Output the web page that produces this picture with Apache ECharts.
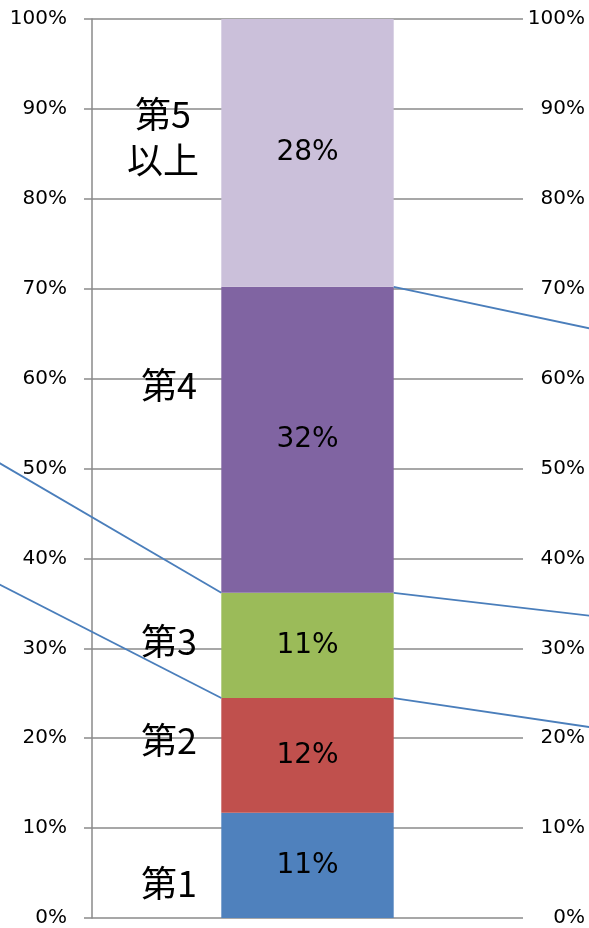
<!DOCTYPE html>
<html>
<head>
<meta charset="utf-8">
<script src="https://cdn.jsdelivr.net/npm/echarts@6/dist/echarts.min.js"></script>
<style>
  html, body { margin: 0; padding: 0; background: #fff; }
  #chart { width: 589px; height: 928px; }
</style>
</head>
<body>
<div id="chart"></div>
<script>
// Stacked share of one column, with series lines to the neighbouring columns
const categories = ['第1', '第2', '第3', '第4', '第5\n以上'];
const seriesNames = ['第1', '第2', '第3', '第4', '第5以上'];
const shares = [11, 12, 11, 32, 28];
const colors = ['#4F81BD', '#C0504D', '#9BBB59', '#8064A2', '#CBC0DA'];
const yTicks = [0, 10, 20, 30, 40, 50, 60, 70, 80, 90, 100];

// cumulative boundaries (%) of the neighbouring columns, for the series lines
const prevTops = { 1: 39.2, 2: 53.0 };           // top of 第2, 第3 in the column to the left
const nextTops = { 1: 20.2, 2: 32.8, 3: 64.1 };  // top of 第2, 第3, 第4 in the column to the right

const total = shares.reduce((a, b) => a + b, 0);
const pct = shares.map(v => v / total * 100);
const cum = [];
pct.reduce((acc, v, i) => (cum[i] = acc + v), 0);

const GRID_COLOR = '#8a8a8a';
const NUM_FONT = 'DejaVu Sans';
const CJK_FONT = 'Noto Sans CJK JP';
const HALF_BAR = 0.2; // bar occupies 40% of its category band

// plot area: one category band, 431px wide
const PLOT = { left: 92, right: 66, top: 19, bottom: 10 };
const BAND = 589 - PLOT.left - PLOT.right;

const barSeries = seriesNames.map((name, i) => ({
  name,
  type: 'bar',
  stack: 'share',
  xAxisIndex: 0,
  yAxisIndex: 0,
  barWidth: '40%',
  itemStyle: { color: colors[i] },
  label: {
    show: true,
    position: 'inside',
    color: '#000',
    fontFamily: NUM_FONT,
    fontSize: 28,
    formatter: () => shares[i] + '%'
  },
  data: [pct[i]]
}));

const lineStyle = { color: '#4A7EBB', width: 1.8 };
const seriesLines = [];
Object.keys(prevTops).forEach(k => {
  seriesLines.push([[-1 + HALF_BAR, prevTops[k]], [-HALF_BAR, cum[k]]]);
});
Object.keys(nextTops).forEach(k => {
  seriesLines.push([[HALF_BAR, cum[k]], [1 - HALF_BAR, nextTops[k]]]);
});
const lineSeries = seriesLines.map(pts => ({
  type: 'line',
  xAxisIndex: 1,
  yAxisIndex: 2,
  clip: false,
  silent: true,
  symbol: 'none',
  z: 3,
  lineStyle,
  data: pts
}));

const yAxisBase = {
  type: 'value',
  min: yTicks[0],
  max: yTicks[yTicks.length - 1],
  interval: yTicks[1] - yTicks[0]
};

const chart = echarts.init(document.getElementById('chart'), null, { renderer: 'canvas' });
chart.setOption({
  animation: false,
  backgroundColor: '#fff',
  grid: [
    Object.assign({ containLabel: false, outerBoundsMode: 'none' }, PLOT),
    // wider band spanning the neighbouring columns (one band each side)
    {
      left: PLOT.left - BAND,
      right: PLOT.right - BAND,
      top: PLOT.top,
      bottom: PLOT.bottom,
      containLabel: false,
      outerBoundsMode: 'none'
    }
  ],
  xAxis: [
    {
      type: 'category',
      gridIndex: 0,
      data: [''],
      axisLine: { show: false },
      axisTick: { show: false },
      axisLabel: { show: false }
    },
    {
      type: 'value',
      gridIndex: 1,
      min: -1.5,
      max: 1.5,
      show: false
    }
  ],
  yAxis: [
    Object.assign({}, yAxisBase, {
      gridIndex: 0,
      position: 'left',
      axisLine: { show: true, onZero: false, lineStyle: { color: GRID_COLOR, width: 1.5 } },
      axisTick: { show: true, length: 8, lineStyle: { color: GRID_COLOR, width: 1.5 } },
      splitLine: { show: true, lineStyle: { color: GRID_COLOR, width: 1.5 } },
      axisLabel: {
        margin: 25,
        padding: [3, 0, 0, 0],
        color: '#000',
        fontFamily: NUM_FONT,
        fontSize: 20,
        formatter: v => v + '%'
      }
    }),
    Object.assign({}, yAxisBase, {
      gridIndex: 0,
      position: 'right',
      axisLine: { show: false, onZero: false },
      axisTick: { show: false },
      splitLine: { show: false },
      axisLabel: {
        margin: 62,
        align: 'right',
        padding: [0, 0, 6, 0],
        color: '#000',
        fontFamily: NUM_FONT,
        fontSize: 20,
        formatter: v => v + '%'
      }
    }),
    Object.assign({}, yAxisBase, { gridIndex: 1, show: false })
  ],
  graphic: [
    { x: 141, y: 883, text: categories[0] },
    { x: 141, y: 740, text: categories[1] },
    { x: 141, y: 641, text: categories[2] },
    { x: 141, y: 385, text: categories[3] },
    { x: 163, y: 137, text: categories[4], align: 'center' }
  ].map(t => ({
    type: 'text',
    z: 10,
    style: {
      x: t.x,
      y: t.y,
      text: t.text,
      fill: '#000',
      font: '36px "' + CJK_FONT + '"',
      lineHeight: 46,
      textAlign: t.align || 'left',
      textVerticalAlign: 'middle'
    }
  })),
  series: barSeries.concat(lineSeries)
});
</script>
</body>
</html>
